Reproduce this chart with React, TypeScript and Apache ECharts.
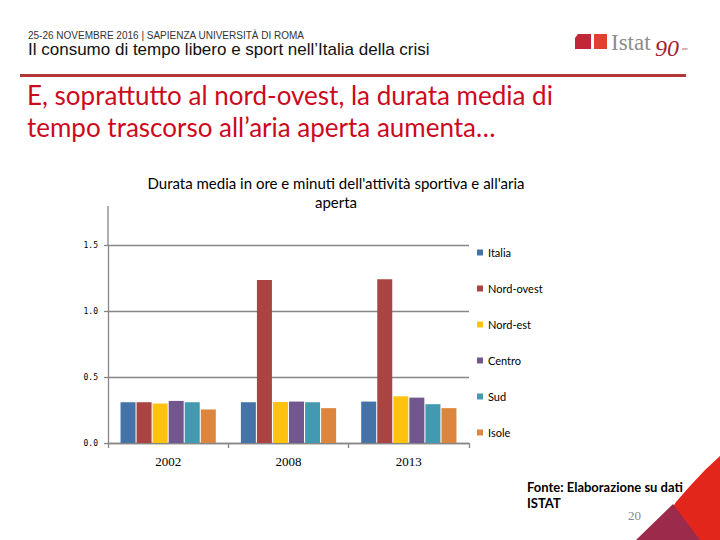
import React, { useEffect, useRef } from "react";
import * as echarts from "echarts";

const categories = ["2002", "2008", "2013"];
const seriesNames = ["Italia", "Nord-ovest", "Nord-est", "Centro", "Sud", "Isole"];
const italia = [0.31, 0.31, 0.315];
const nordOvest = [0.31, 1.24, 1.245];
const nordEst = [0.3, 0.312, 0.355];
const centro = [0.32, 0.315, 0.345];
const sud = [0.31, 0.31, 0.295];
const isole = [0.255, 0.265, 0.265];
const yTicks = [0, 0.5, 1.0, 1.5];
const colors = ["#4573a8", "#a94442", "#ffc20e", "#72578f", "#4299b0", "#dc853f"];

export default function App() {
  const ref = useRef<HTMLDivElement>(null);
  useEffect(() => {
    document.body.style.margin = "0";
    if (!ref.current) return;
    const chart = echarts.init(ref.current, null, { renderer: "svg" });
    const values = [italia, nordOvest, nordEst, centro, sud, isole];
    const option: any = {
      animation: false,
      backgroundColor: "#ffffff",
      grid: { left: 108, right: 251, top: 245.7, bottom: 97, containLabel: false },
      legend: {
        orient: "vertical",
        left: 472,
        top: 242,
        itemWidth: 6,
        itemHeight: 6,
        itemGap: 25,
        icon: "rect",
        textStyle: { fontFamily: "Lato", fontSize: 11, color: "#000" },
        data: seriesNames,
      },
      xAxis: {
        type: "category",
        data: categories,
        axisLine: { lineStyle: { color: "#868686", width: 1.3 } },
        axisTick: { show: true, length: 5, lineStyle: { color: "#868686", width: 1.3 } },
        axisLabel: { fontFamily: "Liberation Serif", fontSize: 13, color: "#000", margin: 12 },
      },
      yAxis: {
        type: "value",
        min: yTicks[0],
        max: yTicks[yTicks.length - 1],
        interval: 0.5,
        axisLine: { show: true, lineStyle: { color: "#868686", width: 1.3 } },
        axisTick: { show: true, length: 4, lineStyle: { color: "#868686", width: 1.3 } },
        splitLine: { lineStyle: { color: "#868686", width: 1.3 } },
        axisLabel: {
          fontFamily: "DejaVu Sans Mono",
          fontSize: 8,
          color: "#000",
          margin: 10,
          formatter: (v: number) => v.toFixed(1),
        },
      },
      series: seriesNames.map((name, i) => ({
        name,
        type: "bar",
        data: values[i],
        barWidth: 15,
        barGap: "7%",
        itemStyle: { color: colors[i] },
      })),
      graphic: [
        { type: "line", shape: { x1: 108, y1: 206, x2: 108, y2: 246 }, style: { stroke: "#868686", lineWidth: 1.3 } },
        {
          type: "text",
          x: 336,
          y: 192,
          style: {
            text: "Durata media in ore e minuti dell'attività sportiva e all'aria\naperta",
            fontFamily: "Lato",
            fontSize: 15,
            lineHeight: 19,
            fill: "#000",
            textAlign: "center",
            textVerticalAlign: "middle",
          },
        },
        {
          type: "text",
          x: 28,
          y: 35,
          style: {
            text: "25-26 NOVEMBRE 2016 | SAPIENZA UNIVERSITÀ DI ROMA",
            fontFamily: "Liberation Sans",
            fontSize: 10,
            fill: "#333",
            textVerticalAlign: "middle",
          },
        },
        {
          type: "text",
          x: 28,
          y: 49,
          style: {
            text: "Il consumo di tempo libero e sport nell’Italia della crisi",
            fontFamily: "Liberation Sans",
            fontSize: 17,
            fill: "#111",
            textVerticalAlign: "middle",
          },
        },
        { type: "rect", shape: { x: 20, y: 74, width: 666, height: 3 }, style: { fill: "#b3363a" } },
        {
          type: "polygon",
          shape: { points: [[575, 38], [578, 34], [591, 34], [591, 49], [575, 49]] },
          style: { fill: "#c0283a" },
        },
        { type: "rect", shape: { x: 594, y: 34, width: 13, height: 15 }, style: { fill: "#e2402e" } },
        {
          type: "text",
          x: 611,
          y: 42,
          style: { text: "Istat", fontFamily: "Liberation Serif", fontSize: 23, fill: "#8c8c8c", textVerticalAlign: "middle" },
        },
        {
          type: "text",
          x: 655,
          y: 48,
          style: { text: "90", fontFamily: "Liberation Serif", fontStyle: "italic", fontSize: 24, fill: "#a31f34", textVerticalAlign: "middle" },
        },
        {
          type: "text",
          x: 682,
          y: 49,
          style: { text: "anni", fontFamily: "Liberation Sans", fontSize: 3, fill: "#a31f34", textVerticalAlign: "middle" },
        },
        {
          type: "text",
          x: 27,
          y: 111,
          style: {
            text: "E, soprattutto al nord-ovest, la durata media di\ntempo trascorso all’aria aperta aumenta…",
            fontFamily: "Lato",
            fontSize: 26,
            lineHeight: 32,
            fill: "#cc0a1e",
            textVerticalAlign: "middle",
          },
        },
        {
          type: "polygon",
          shape: { points: [[720, 456], [705, 470], [690, 486], [676, 502], [664, 520], [654, 540], [720, 540]] },
          style: { fill: "#e3261c" },
        },
        {
          type: "polygon",
          shape: { points: [[673, 504], [636, 540], [700, 540]] },
          style: { fill: "#9c2a4a" },
        },
        {
          type: "text",
          x: 527,
          y: 495,
          style: {
            text: "Fonte: Elaborazione su dati\nISTAT",
            fontFamily: "Lato",
            fontWeight: "bold",
            fontSize: 13,
            lineHeight: 16,
            fill: "#000",
            textVerticalAlign: "middle",
          },
        },
        {
          type: "text",
          x: 628,
          y: 515,
          style: { text: "20", fontFamily: "Liberation Serif", fontSize: 13, fill: "#888", textVerticalAlign: "middle" },
        },
      ],
    };
    chart.setOption(option);
    return () => chart.dispose();
  }, []);
  return <div ref={ref} style={{ width: 720, height: 540 }} />;
}
